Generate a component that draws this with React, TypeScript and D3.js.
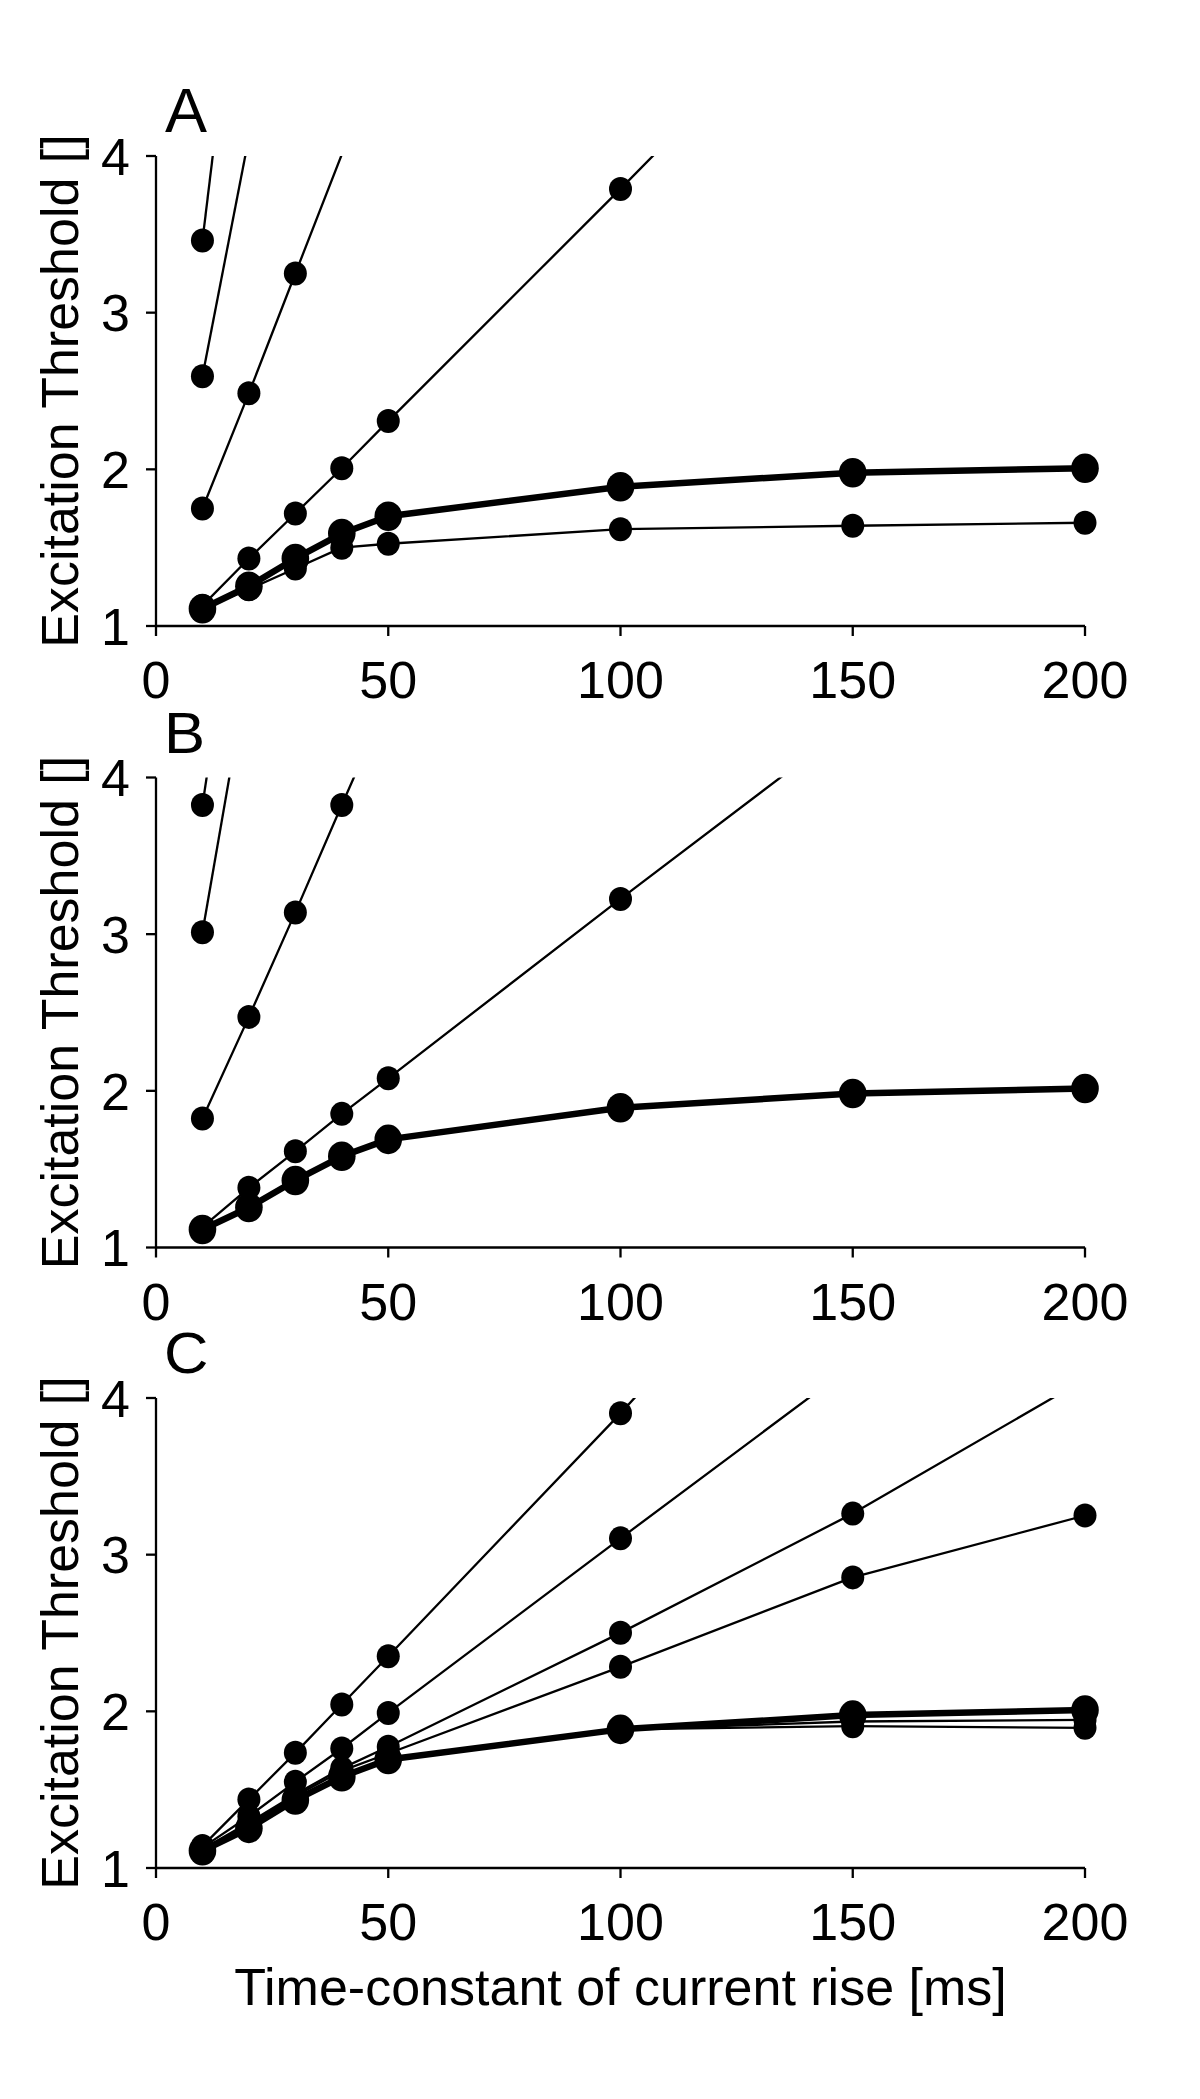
import React from "react";
import * as d3 from "d3";

// ---- data ----
const times = [10, 20, 30, 40, 50, 100, 150, 200];
const xTicks = [0, 50, 100, 150, 200];
const yTicks = [1, 2, 3, 4];
const panelLetters = ["A", "B", "C"];
const yTitle = "Excitation Threshold []";
const xTitle = "Time-constant of current rise [ms]";

// Panel A (values aligned with times; points above 4 lie outside the axis and are clipped)
const a1 = [3.46, 5.9];
const a2 = [2.594, 4.12];
const a3 = [1.75, 2.486, 3.25, 4.01];
const a4 = [1.13, 1.431, 1.718, 2.007, 2.308, 3.79, 5.3];
const a6 = [1.11, 1.235, 1.367, 1.5, 1.525, 1.618, 1.64, 1.659];
const aThick = [1.11, 1.254, 1.431, 1.59, 1.701, 1.889, 1.978, 2.007];

// Panel B
const b1 = [3.824, 5.78];
const b2 = [3.012, 4.72];
const b3 = [1.824, 2.472, 3.139, 3.824, 4.5];
const b4 = [1.13, 1.381, 1.614, 1.853, 2.08, 3.225, 4.35];
const bThick = [1.115, 1.255, 1.428, 1.582, 1.69, 1.892, 1.983, 2.015];

// Panel C
const c1 = [1.14, 1.438, 1.735, 2.044, 2.352, 3.902, 5.53];
const c2 = [1.13, 1.33, 1.55, 1.763, 1.99, 3.104, 4.21];
const c3 = [1.12, 1.29, 1.47, 1.636, 1.774, 2.501, 3.262, 4.12];
const c4 = [1.12, 1.28, 1.46, 1.62, 1.731, 2.284, 2.855, 3.25];
const c5 = [1.11, 1.255, 1.435, 1.585, 1.69, 1.885, 1.935, 1.945];
const c6 = [1.11, 1.255, 1.435, 1.585, 1.69, 1.885, 1.905, 1.895];
const cThick = [1.11, 1.253, 1.434, 1.582, 1.693, 1.885, 1.976, 2.008];

const panelThin = [
  [a1, a2, a3, a4, a6],
  [b1, b2, b3, b4],
  [c1, c2, c3, c4, c5, c6],
];
const panelThick = [aThick, bThick, cThick];

// ---- layout ----
const W = 1200;
const H = 2099;
const X0 = 156;
const X1 = 1085;
const panelTops = [156, 777.5, 1398];
const plotH = 470;
const FONT = "'Liberation Sans', Arial, Helvetica, sans-serif";
const letterStyle = [
  { x: 165, dy: -24, size: 63, sx: 1 },
  { x: 164, dy: -25, size: 57, sx: 1.08 },
  { x: 164, dy: -25, size: 57, sx: 1.08 },
];

const x = d3.scaleLinear().domain([0, 200]).range([X0, X1]);

function Series({ vals, y, thick, clipId }: any) {
  const pts: [number, number][] = vals.map((v: number, i: number) => [times[i], v]);
  const line = d3
    .line<[number, number]>()
    .x((d) => x(d[0]))
    .y((d) => y(d[1]));
  const shown = pts.filter((d) => d[1] <= 4);
  return (
    <g clipPath={`url(#${clipId})`}>
      <path
        d={line(pts) || ""}
        fill="none"
        stroke="#000"
        strokeWidth={thick ? 6.5 : 2.3}
        strokeLinejoin="round"
      />
      {shown.map((d, i) => (
        <ellipse
          key={i}
          cx={x(d[0])}
          cy={y(d[1])}
          rx={thick ? 13.8 : 11.5}
          ry={thick ? 14.8 : 12}
          fill="#000"
        />
      ))}
    </g>
  );
}

function Panel({ idx }: { idx: number }) {
  const top = panelTops[idx];
  const bottom = top + plotH;
  const y = d3.scaleLinear().domain([1, 4]).range([bottom, top]);
  const clipId = `clip${idx}`;
  const ls = letterStyle[idx];
  return (
    <g>
      <defs>
        <clipPath id={clipId}>
          <rect x={0} y={top} width={W} height={plotH + 80} />
        </clipPath>
      </defs>
      {/* axes */}
      <line x1={X0} x2={X0} y1={top} y2={bottom} stroke="#000" strokeWidth={2.3} />
      <line x1={X0} x2={X1} y1={bottom} y2={bottom} stroke="#000" strokeWidth={2.3} />
      {yTicks.map((t) => (
        <g key={"y" + t}>
          <line x1={X0 - 10} x2={X0} y1={y(t)} y2={y(t)} stroke="#000" strokeWidth={2.3} />
          <text
            x={130}
            y={y(t)}
            dy="0.36em"
            textAnchor="end"
            fontSize={52}
            fontFamily={FONT}
          >
            {t}
          </text>
        </g>
      ))}
      {xTicks.map((t) => (
        <g key={"x" + t}>
          <line x1={x(t)} x2={x(t)} y1={bottom} y2={bottom + 10} stroke="#000" strokeWidth={2.3} />
          <text
            x={x(t)}
            y={bottom + 72}
            textAnchor="middle"
            fontSize={52}
            fontFamily={FONT}
          >
            {t}
          </text>
        </g>
      ))}
      <text
        transform={`translate(78,${(top + bottom) / 2}) rotate(-90)`}
        textAnchor="middle"
        fontSize={52}
        fontFamily={FONT}
      >
        {yTitle}
      </text>
      <text
        transform={`translate(${ls.x},${top + ls.dy}) scale(${ls.sx},1)`}
        fontSize={ls.size}
        fontFamily={FONT}
      >
        {panelLetters[idx]}
      </text>
      {panelThin[idx].map((vals, i) => (
        <Series key={i} vals={vals} y={y} thick={false} clipId={clipId} />
      ))}
      <Series vals={panelThick[idx]} y={y} thick={true} clipId={clipId} />
    </g>
  );
}

export default function App() {
  return (
    <svg
      width={W}
      height={H}
      viewBox={`0 0 ${W} ${H}`}
      style={{ position: "absolute", left: 0, top: 0, background: "#fff" }}
    >
      <rect x={0} y={0} width={W} height={H} fill="#fff" />
      {[0, 1, 2].map((i) => (
        <Panel key={i} idx={i} />
      ))}
      <text
        x={(X0 + X1) / 2}
        y={2005}
        textAnchor="middle"
        fontSize={52}
        fontFamily={FONT}
      >
        {xTitle}
      </text>
    </svg>
  );
}
